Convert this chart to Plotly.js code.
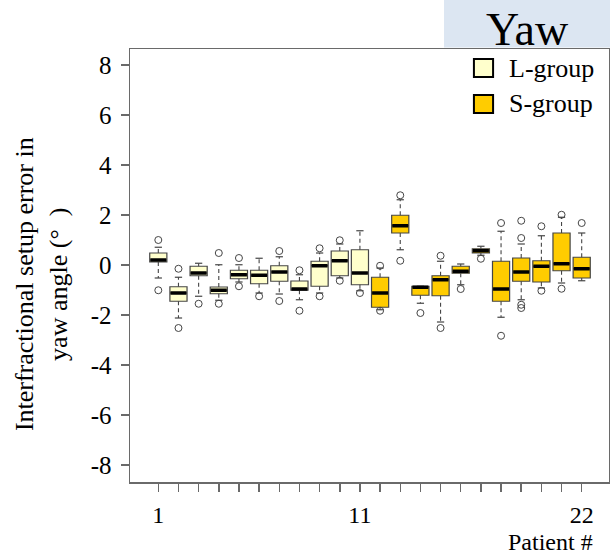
<!DOCTYPE html>
<html>
<head>
<meta charset="utf-8">
<script src="https://cdn.plot.ly/plotly-3.0.1.min.js"></script>
<style>
  html, body { margin: 0; padding: 0; background: #ffffff; }
  #chart { width: 610px; height: 557px; }
</style>
</head>
<body>
<div id="chart"></div>
<script>
// Patient numbers and group membership
const patientsL = [1, 2, 3, 4, 5, 6, 7, 8, 9, 10, 11];
const patientsS = [12, 13, 14, 15, 16, 17, 18, 19, 20, 21, 22];

// Box statistics, yaw angle (degrees) — L-group
const q1L     = [0.12, -1.45, -0.43, -1.15, -0.55, -0.75, -0.65, -1.01, -0.85, -0.43, -0.79];
const medianL = [0.20, -1.12, -0.32, -1.01, -0.39, -0.41, -0.28, -0.96, -0.03,  0.17, -0.32];
const q3L     = [0.48, -0.87, -0.05, -0.88, -0.21, -0.21, -0.03, -0.64,  0.15,  0.56,  0.61];
const lowL    = [-0.52, -2.12, -1.25, -1.41, -0.68, -1.12, -1.16, -1.39, -1.12, -0.52, -1.03];
const highL   = [0.71, -0.49,  0.07,  0.01,  0.01,  0.27,  0.33, -0.39,  0.48,  0.84,  1.37];

// Box statistics, yaw angle (degrees) — S-group
const q1S     = [-1.69, 1.28, -1.21, -1.23, -0.33, 0.48, -1.45, -0.65, -0.68, -0.23, -0.52];
const medianS = [-1.12, 1.57, -0.89, -0.59, -0.25, 0.57, -0.96, -0.28, -0.05,  0.05, -0.15];
const q3S     = [-0.49, 1.99, -0.85, -0.43, -0.05, 0.65,  0.15,  0.28,  0.17,  1.28,  0.31];
const lowS    = [-1.79, 0.61, -1.53, -2.28, -0.79, 0.39, -2.09, -1.39, -0.92, -0.72, -0.63];
const highS   = [-0.12, 2.61, -0.85,  0.15,  0.04, 0.75,  1.35,  0.84,  1.17,  1.91,  1.28];

// Outlying fractions (patient, value)
const outlierPatient = [1, 1, 2, 2, 3, 4, 4, 5, 5, 6, 7, 7, 8, 8, 9, 9, 10, 10, 11,
                        12, 12, 13, 13, 14, 15, 15, 16, 17, 18, 18, 19, 19, 19, 19, 20, 20, 21, 21, 22];
const outlierValue   = [1.00, -1.01, -0.15, -2.52, -1.55, 0.48, -1.55, 0.28, -0.85, -1.25, 0.56, -1.44,
                        -0.21, -1.83, 0.67, -1.25, 0.99, -0.63, -1.12,
                        -0.03, -1.83, 2.79, 0.17, -1.92, 0.37, -2.52, -0.96, 0.25, 1.68, -2.83,
                        1.77, 1.08, -1.59, -1.72, 1.55, -1.03, 2.01, -0.95, 1.68];

// Axis ticks
const yTicks = [-8, -6, -4, -2, 0, 2, 4, 6, 8];
const yTickText = ['-8', '-6', '-4', '-2', '0', '2', '4', '6', '8'];
const xLabelled = [1, 11, 22];

const FILL_L = '#ffffcc';
const FILL_S = '#ffcc00';
const EDGE = '#454545';
const FONT = 'Liberation Serif, Times New Roman, serif';
const BOX_W = 0.85;
const CAP_HALF = 0.18;

function boxTrace(x, q1, med, q3, fill) {
  return {
    type: 'box', x: x, q1: q1, median: med, q3: q3,
    lowerfence: q1, upperfence: q3,
    width: BOX_W, whiskerwidth: 0,
    fillcolor: fill, line: {color: EDGE, width: 1.2},
    boxpoints: false, showlegend: false, hoverinfo: 'skip'
  };
}

// dashed whiskers from box edge to fence
function whiskerTrace(x, q1, q3, low, high) {
  const xs = [], ys = [];
  x.forEach((p, i) => {
    xs.push(p, p, null, p, p, null);
    ys.push(q3[i], high[i], null, q1[i], low[i], null);
  });
  return {type: 'scatter', mode: 'lines', x: xs, y: ys,
          line: {color: EDGE, width: 1.1, dash: '4px,3px'},
          showlegend: false, hoverinfo: 'skip'};
}

// whisker end caps
function capTrace(x, low, high) {
  const xs = [], ys = [];
  x.forEach((p, i) => {
    xs.push(p - CAP_HALF, p + CAP_HALF, null, p - CAP_HALF, p + CAP_HALF, null);
    ys.push(high[i], high[i], null, low[i], low[i], null);
  });
  return {type: 'scatter', mode: 'lines', x: xs, y: ys,
          line: {color: EDGE, width: 1.2},
          showlegend: false, hoverinfo: 'skip'};
}

// heavy median bars
function medianTrace(x, med) {
  const xs = [], ys = [];
  x.forEach((p, i) => {
    xs.push(p - BOX_W / 2 + 0.03, p + BOX_W / 2 - 0.03, null);
    ys.push(med[i], med[i], null);
  });
  return {type: 'scatter', mode: 'lines', x: xs, y: ys,
          line: {color: '#000000', width: 3.5},
          showlegend: false, hoverinfo: 'skip'};
}

const traces = [
  whiskerTrace(patientsL, q1L, q3L, lowL, highL),
  whiskerTrace(patientsS, q1S, q3S, lowS, highS),
  capTrace(patientsL, lowL, highL),
  capTrace(patientsS, lowS, highS),
  boxTrace(patientsL, q1L, medianL, q3L, FILL_L),
  boxTrace(patientsS, q1S, medianS, q3S, FILL_S),
  medianTrace(patientsL, medianL),
  medianTrace(patientsS, medianS),
  {
    type: 'scatter', mode: 'markers', x: outlierPatient, y: outlierValue,
    marker: {symbol: 'circle-open', size: 7, color: EDGE, line: {width: 1, color: EDGE}},
    showlegend: false, hoverinfo: 'skip'
  }
];

const allPatients = patientsL.concat(patientsS);
const xTickText = allPatients.map(p => xLabelled.includes(p) ? String(p) : '');

const axisCommon = {
  showline: true, mirror: true, linecolor: '#6a6a6a', linewidth: 1.5,
  ticks: 'outside', ticklen: 8, tickwidth: 1.5, tickcolor: '#6a6a6a',
  showgrid: false, zeroline: false, fixedrange: true,
  tickfont: {family: FONT, size: 25, color: '#000000'}
};

const layout = {
  width: 610, height: 557,
  margin: {l: 130, r: 1, t: 49, b: 75, pad: 0},
  paper_bgcolor: '#ffffff', plot_bgcolor: '#ffffff',
  showlegend: false,
  font: {family: FONT, color: '#000000'},
  xaxis: Object.assign({}, axisCommon, {
    range: [-0.404, 23.354],
    tickmode: 'array', tickvals: allPatients, ticktext: xTickText,
    tickfont: {family: FONT, size: 24, color: '#000000'},
    ticklabelstandoff: 3
  }),
  yaxis: Object.assign({}, axisCommon, {
    range: [-8.68, 8.64],
    tickmode: 'array', tickvals: yTicks, ticktext: yTickText,
    ticklabelstandoff: 4
  }),
  shapes: [
    // title banner
    {type: 'rect', xref: 'paper', yref: 'paper', x0: 0.6555, x1: 1.01, y0: 1.0035, y1: 1.12,
     fillcolor: '#dce6f2', line: {width: 0}, layer: 'above'},
    // legend keys
    {type: 'rect', xref: 'paper', yref: 'paper', x0: 0.718, x1: 0.758, y0: 0.9353, y1: 0.9769,
     fillcolor: FILL_L, line: {color: '#000000', width: 2}},
    {type: 'rect', xref: 'paper', yref: 'paper', x0: 0.718, x1: 0.758, y0: 0.8522, y1: 0.8938,
     fillcolor: FILL_S, line: {color: '#000000', width: 2}}
  ],
  annotations: [
    {text: 'Yaw', xref: 'paper', yref: 'paper', x: 0.829, y: 1.046,
     xanchor: 'center', yanchor: 'middle', showarrow: false,
     font: {family: FONT, size: 46, color: '#000000'}},
    {text: 'L-group', xref: 'paper', yref: 'paper', x: 0.7871, y: 0.956,
     xanchor: 'left', yanchor: 'middle', showarrow: false,
     font: {family: FONT, size: 26, color: '#000000'}},
    {text: 'S-group', xref: 'paper', yref: 'paper', x: 0.7871, y: 0.873,
     xanchor: 'left', yanchor: 'middle', showarrow: false,
     font: {family: FONT, size: 26, color: '#000000'}},
    {text: 'Interfractional setup error in<br>yaw angle (°\u2002)', xref: 'paper', yref: 'paper',
     x: -0.1858, y: 0.457, xanchor: 'center', yanchor: 'middle', textangle: -90,
     showarrow: false, align: 'center',
     font: {family: FONT, size: 26, color: '#000000'}},
    {text: 'Patient #', xref: 'paper', yref: 'paper', x: 0.971, y: -0.1732,
     xanchor: 'right', yanchor: 'bottom', showarrow: false,
     font: {family: FONT, size: 24, color: '#000000'}}
  ]
};

Plotly.newPlot('chart', traces, layout, {staticPlot: true, displayModeBar: false});
</script>
</body>
</html>
